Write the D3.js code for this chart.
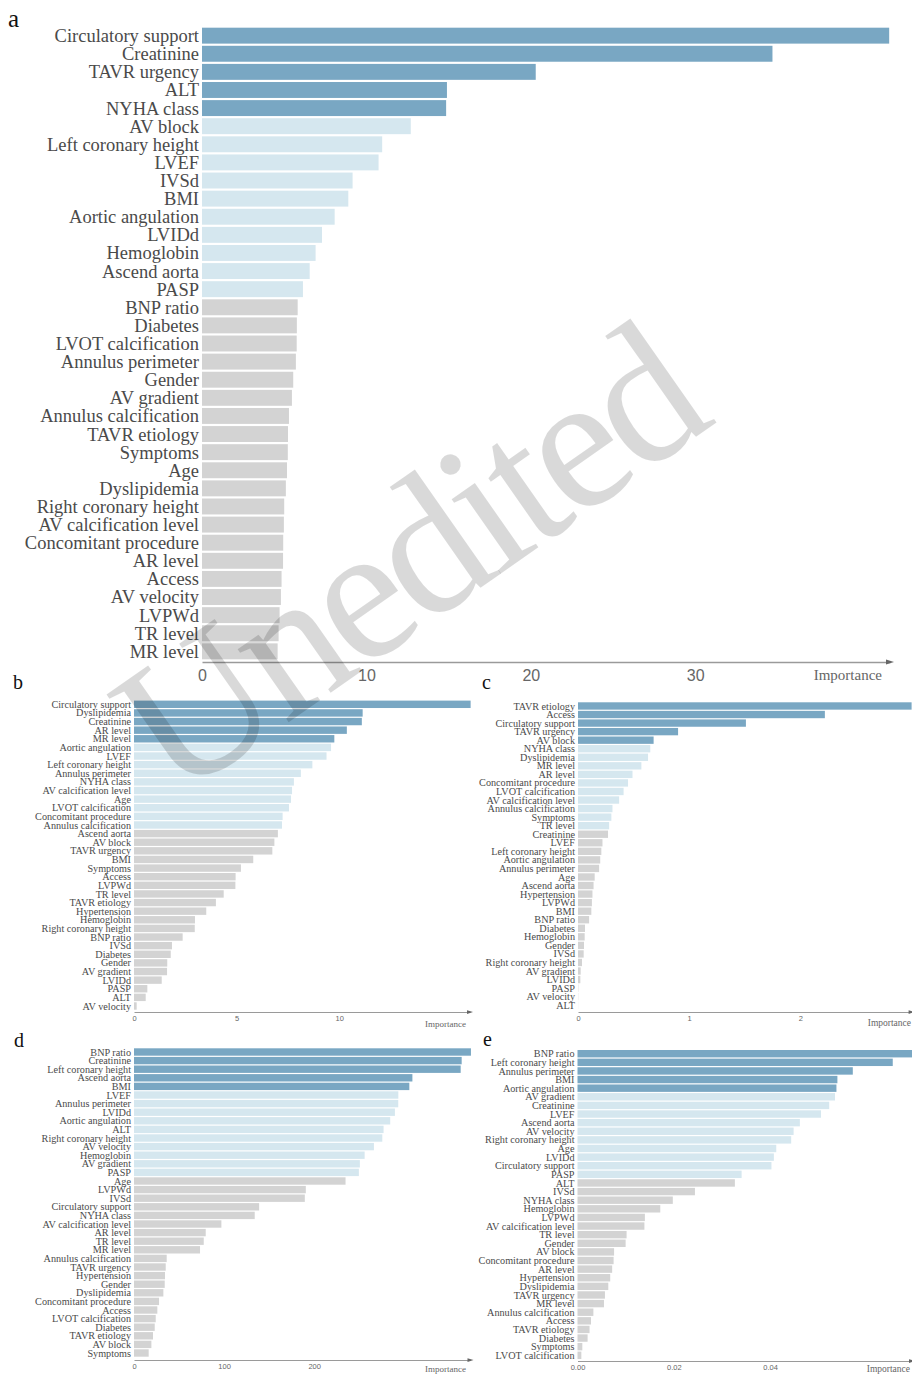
<!DOCTYPE html>
<html>
<head>
<meta charset="utf-8">
<script src="https://cdn.jsdelivr.net/npm/d3@7"></script>
<style>
  body { margin: 0; background: #fff; }
  svg { display: block; }
</style>
</head>
<body>
<div id="chart"></div>
<script>
// feature importance, one list per model (sorted as in the figure)
var namesA = ["Circulatory support","Creatinine","TAVR urgency","ALT","NYHA class","AV block","Left coronary height","LVEF","IVSd","BMI","Aortic angulation","LVIDd","Hemoglobin","Ascend aorta","PASP","BNP ratio","Diabetes","LVOT calcification","Annulus perimeter","Gender","AV gradient","Annulus calcification","TAVR etiology","Symptoms","Age","Dyslipidemia","Right coronary height","AV calcification level","Concomitant procedure","AR level","Access","AV velocity","LVPWd","TR level","MR level"];
var valuesA = [41.8,34.7,20.3,14.9,14.85,12.7,10.96,10.74,9.16,8.9,8.07,7.3,6.91,6.55,6.14,5.82,5.77,5.76,5.71,5.55,5.47,5.29,5.23,5.22,5.17,5.1,5.0,4.98,4.94,4.93,4.84,4.8,4.72,4.66,4.6];
var ticksA = [0,10,20,30];

var namesB = ["Circulatory support","Dyslipidemia","Creatinine","AR level","MR level","Aortic angulation","LVEF","Left coronary height","Annulus perimeter","NYHA class","AV calcification level","Age","LVOT calcification","Concomitant procedure","Annulus calcification","Ascend aorta","AV block","TAVR urgency","BMI","Symptoms","Access","LVPWd","TR level","TAVR etiology","Hypertension","Hemoglobin","Right coronary height","BNP ratio","IVSd","Diabetes","Gender","AV gradient","LVIDd","PASP","ALT","AV velocity"];
var valuesB = [16.4,11.14,11.1,10.37,9.76,9.6,9.38,8.69,8.13,7.79,7.7,7.65,7.55,7.24,7.21,7.01,6.84,6.74,5.81,5.21,4.95,4.94,4.37,3.99,3.52,2.97,2.96,2.37,1.85,1.79,1.62,1.61,1.35,0.65,0.57,0.13];
var ticksB = [0,5,10];

var namesC = ["TAVR etiology","Access","Circulatory support","TAVR urgency","AV block","NYHA class","Dyslipidemia","MR level","AR level","Concomitant procedure","LVOT calcification","AV calcification level","Annulus calcification","Symptoms","TR level","Creatinine","LVEF","Left coronary height","Aortic angulation","Annulus perimeter","Age","Ascend aorta","Hypertension","LVPWd","BMI","BNP ratio","Diabetes","Hemoglobin","Gender","IVSd","Right coronary height","AV gradient","LVIDd","PASP","AV velocity","ALT"];
var valuesC = [3.0,2.22,1.51,0.9,0.68,0.65,0.63,0.57,0.49,0.45,0.41,0.37,0.31,0.3,0.28,0.27,0.22,0.21,0.2,0.19,0.15,0.14,0.13,0.125,0.12,0.1,0.063,0.06,0.054,0.051,0.036,0.024,0.021,0.003,0.002,0.001];
var ticksC = [0,1,2];

var namesD = ["BNP ratio","Creatinine","Left coronary height","Ascend aorta","BMI","LVEF","Annulus perimeter","LVIDd","Aortic angulation","ALT","Right coronary height","AV velocity","Hemoglobin","AV gradient","PASP","Age","LVPWd","IVSd","Circulatory support","NYHA class","AV calcification level","AR level","TR level","MR level","Annulus calcification","TAVR urgency","Hypertension","Gender","Dyslipidemia","Concomitant procedure","Access","LVOT calcification","Diabetes","TAVR etiology","AV block","Symptoms"];
var valuesD = [374,363.7,362.6,309,305.6,293.4,293.3,289.6,284.4,277,275.6,266.3,256,250.7,249.6,234.8,190.7,189.6,138.9,134,97,79.6,77.4,73.3,36.3,35.2,34.4,34.1,32.6,27.8,25.9,24.1,23,21.1,19.3,16.3];
var ticksD = [0,100,200];

var namesE = ["BNP ratio","Left coronary height","Annulus perimeter","BMI","Aortic angulation","AV gradient","Creatinine","LVEF","Ascend aorta","AV velocity","Right coronary height","Age","LVIDd","Circulatory support","PASP","ALT","IVSd","NYHA class","Hemoglobin","LVPWd","AV calcification level","TR level","Gender","AV block","Concomitant procedure","AR level","Hypertension","Dyslipidemia","TAVR urgency","MR level","Annulus calcification","Access","TAVR etiology","Diabetes","Symptoms","LVOT calcification"];
var valuesE = [0.0695,0.0655,0.0572,0.054,0.0538,0.0535,0.0523,0.0506,0.0462,0.0449,0.0444,0.0413,0.0408,0.0403,0.0341,0.0327,0.0244,0.0198,0.0172,0.0140,0.0139,0.0102,0.0100,0.0076,0.0075,0.0072,0.0068,0.0064,0.0057,0.0055,0.0033,0.0028,0.0025,0.0021,0.0010,0.0008];
var ticksE = [0,0.02,0.04];

// top 5 dark blue, next 10 light blue, the rest grey
var tierColors = ["#79a7c3","#d5e7ef","#d3d3d3"];

var W = 912, H = 1375;
var svg = d3.select("#chart").append("svg")
    .attr("width", W)
    .attr("height", H)
    .style("background", "#fff");

function tierColor(i) {
    if (i < 5) return tierColors[0];
    if (i < 15) return tierColors[1];
    return tierColors[2];
}

function drawPanel(p) {
    var g = svg.append("g");

    var x = d3.scaleLinear()
        .domain([0, p.max])
        .range([p.x0, p.x1]);

    var y = d3.scaleBand()
        .domain(p.names)
        .range([p.y0, p.y1])
        .paddingInner(p.pad)
        .paddingOuter(p.pad / 2);

    g.selectAll("rect")
        .data(p.values)
        .enter()
        .append("rect")
        .attr("x", x(0))
        .attr("y", function(d, i) { return y(p.names[i]); })
        .attr("width", function(d) { return x(d) - x(0); })
        .attr("height", y.bandwidth())
        .attr("fill", function(d, i) { return tierColor(i); });

    g.selectAll("text.lbl")
        .data(p.names)
        .enter()
        .append("text")
        .attr("class", "lbl")
        .attr("x", p.x0 - 3)
        .attr("y", function(d) { return y(d) + y.bandwidth() / 2; })
        .attr("dy", "0.35em")
        .attr("text-anchor", "end")
        .style("font-family", "'Liberation Serif', 'Times New Roman', serif")
        .style("font-size", p.labelSize + "px")
        .style("fill", "#4a4a4a")
        .text(function(d) { return d; });

    var axis = d3.axisBottom(x)
        .tickValues(p.ticks)
        .tickFormat(p.fmt)
        .tickSizeInner(0)
        .tickSizeOuter(0)
        .tickPadding(p.tickPad);

    var ax = g.append("g")
        .attr("transform", "translate(0," + p.axisY + ")")
        .call(axis);
    ax.select(".domain")
        .attr("stroke", "#9a9a9a")
        .attr("stroke-width", p.big ? 1.5 : 1);
    ax.selectAll("text")
        .style("font-family", "'Liberation Sans', Arial, sans-serif")
        .style("font-size", p.tickSize + "px")
        .style("fill", "#666");

    // little arrow head at the end of the axis
    var a = p.big ? 4 : 3;
    g.append("path")
        .attr("d", "M" + (p.x1 + a) + "," + p.axisY + "L" + (p.x1 - a) + "," + (p.axisY - a / 1.6) +
            "L" + (p.x1 - a) + "," + (p.axisY + a / 1.6) + "Z")
        .attr("fill", "#666");

    g.append("text")
        .attr("x", p.impX)
        .attr("y", p.impY)
        .attr("text-anchor", "end")
        .style("font-family", "'Liberation Serif', 'Times New Roman', serif")
        .style("font-size", p.impSize + "px")
        .style("fill", "#666")
        .text("Importance");

    svg.append("text")
        .attr("x", p.letterX)
        .attr("y", p.letterY)
        .style("font-family", "'Liberation Serif', 'Times New Roman', serif")
        .style("font-size", p.letterSize + "px")
        .style("fill", "#111")
        .text(p.letter);
}

var fmtInt = d3.format("d");

drawPanel({names: namesA, values: valuesA, ticks: ticksA, fmt: fmtInt, max: 41.85,
    x0: 202, x1: 890, y0: 26.6, y1: 660.4, pad: 0.12, axisY: 662, big: true,
    labelSize: 18.5, tickSize: 16, tickPad: 8, impX: 882, impY: 680, impSize: 15,
    letter: "a", letterX: 8, letterY: 27, letterSize: 25});

drawPanel({names: namesB, values: valuesB, ticks: ticksB, fmt: fmtInt, max: 16.37,
    x0: 134, x1: 470, y0: 700, y1: 1010.3, pad: 0.14, axisY: 1012, big: false,
    labelSize: 10.2, tickSize: 7.5, tickPad: 4, impX: 466, impY: 1027, impSize: 9,
    letter: "b", letterX: 13, letterY: 689, letterSize: 20});

drawPanel({names: namesC, values: valuesC, ticks: ticksC, fmt: fmtInt, max: 3.0,
    x0: 578, x1: 911.6, y0: 701.7, y1: 1009.5, pad: 0.14, axisY: 1012, big: false,
    labelSize: 10.2, tickSize: 7.5, tickPad: 4, impX: 911, impY: 1026, impSize: 9.5,
    letter: "c", letterX: 482, letterY: 689, letterSize: 20});

drawPanel({names: namesD, values: valuesD, ticks: ticksD, fmt: fmtInt, max: 373.5,
    x0: 134, x1: 470.5, y0: 1047.7, y1: 1357.3, pad: 0.14, axisY: 1360, big: false,
    labelSize: 10.2, tickSize: 7.5, tickPad: 4, impX: 466, impY: 1372, impSize: 9,
    letter: "d", letterX: 14, letterY: 1047, letterSize: 20});

drawPanel({names: namesE, values: valuesE, ticks: ticksE, fmt: d3.format(".2f"), max: 0.0695,
    x0: 577.5, x1: 912, y0: 1049.4, y1: 1359.6, pad: 0.14, axisY: 1361, big: false,
    labelSize: 10.2, tickSize: 7.5, tickPad: 4, impX: 910, impY: 1372, impSize: 9.5,
    letter: "e", letterX: 483, letterY: 1046, letterSize: 20});

// watermark over the whole figure
svg.append("text")
    .attr("transform", "translate(176,801) rotate(-35)")
    .style("font-family", "'Liberation Serif', 'Times New Roman', serif")
    .style("font-size", "194px")
    .style("letter-spacing", "-7px")
    .style("fill", "#000")
    .style("fill-opacity", 0.15)
    .text("Unedited");
</script>
</body>
</html>
